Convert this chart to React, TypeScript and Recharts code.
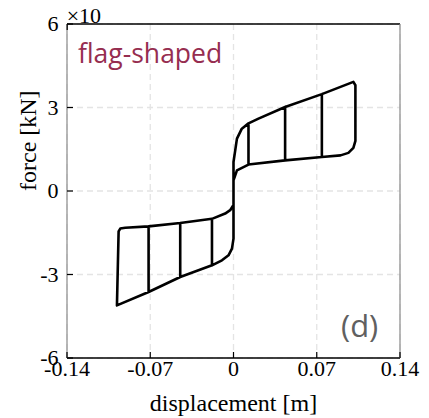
import { LineChart, Line, XAxis, YAxis, CartesianGrid } from 'recharts';

// displacement [m] / force [kN x10]
const xTicks = [-0.14, -0.07, 0, 0.07, 0.14];
const yTicks = [-6, -3, 0, 3, 6];

// positive flag: loading (upper) and unloading (lower) branches
const posLoadX = [0, 0, 0.0029, 0.007, 0.0126, 0.021, 0.0434, 0.0743, 0.1008];
const posLoadF = [0.2, 1.04, 1.88, 2.24, 2.43, 2.6, 3.02, 3.48, 3.92];
const posUnloadX = [0.1008, 0.1025, 0.1025, 0.1008, 0.0966, 0.09, 0.0743, 0.0434, 0.0126, 0.0029, 0, 0];
const posUnloadF = [3.92, 3.8, 1.8, 1.55, 1.37, 1.28, 1.22, 1.1, 0.95, 0.74, 0.38, 0];

// negative flag
const negLoadX = [0, 0, -0.0013, -0.0042, -0.0097, -0.0181, -0.0448, -0.0714, -0.098];
const negLoadF = [0, -1.71, -2.07, -2.31, -2.49, -2.67, -3.09, -3.63, -4.11];
const negUnloadX = [-0.098, -0.0966, -0.0952, -0.091, -0.0714, -0.0448, -0.0181, -0.007, -0.0028, 0, 0];
const negUnloadF = [-4.11, -1.45, -1.35, -1.32, -1.27, -1.15, -1.0, -0.81, -0.69, -0.5, 0];

// cycle amplitudes
const posAmp = [0.0126, 0.0434, 0.0743, 0.1008];
const negAmp = [-0.0181, -0.0448, -0.0714, -0.098];

const path: { x: number; f: number }[] = [{ x: 0, f: 0 }];
const push = (xs: number[], fs: number[], from: number, to: number) => {
  for (let k = from; k <= to; k++) path.push({ x: xs[k], f: fs[k] });
};
posAmp.forEach((a, i) => {
  const b = negAmp[i];
  push(posLoadX, posLoadF, 0, posLoadX.indexOf(a));
  push(posUnloadX, posUnloadF, posUnloadX.indexOf(a), posUnloadX.length - 1);
  push(negLoadX, negLoadF, 0, negLoadX.indexOf(b));
  push(negUnloadX, negUnloadF, negUnloadX.indexOf(b), negUnloadX.length - 1);
});

const serif = '"Liberation Serif", "Times New Roman", serif';

const BottomTick = ({ x, y, payload }: any) => (
  <g>
    <line x1={x} x2={x} y1={y} y2={y - 6} stroke="#000" strokeWidth={1.2} />
    <text x={x} y={y + 17.5} textAnchor="middle" fontFamily={serif} fontSize={22} fill="#000">
      {String(payload.value)}
    </text>
  </g>
);
const LeftTick = ({ x, y, payload }: any) => (
  <g>
    <line x1={x} x2={x + 6} y1={y} y2={y} stroke="#000" strokeWidth={1.2} />
    <text x={x - 8.5} y={y + 7} textAnchor="end" fontFamily={serif} fontSize={22} fill="#000">
      {String(payload.value)}
    </text>
  </g>
);
const TopTick = ({ x, y }: any) => <line x1={x} x2={x} y1={y} y2={y + 6} stroke="#000" strokeWidth={1.2} />;
const RightTick = ({ x, y }: any) => <line x1={x} x2={x - 6} y1={y} y2={y} stroke="#000" strokeWidth={1.2} />;

export default function App() {
  return (
    <div style={{ position: 'absolute', left: 0, top: 0, width: 429, height: 418, background: '#fff' }}>
      <LineChart width={429} height={418} data={path} margin={{ top: 23, right: 28, left: 0, bottom: 0 }}>
        <CartesianGrid strokeDasharray="6 4" stroke="#e4e4e4" strokeWidth={1.3} />
        <XAxis
          dataKey="x"
          type="number"
          domain={[-0.14, 0.14]}
          ticks={xTicks}
          height={60}
          tickSize={0}
          tickMargin={0}
          tickLine={false}
          axisLine={{ stroke: '#000', strokeWidth: 1.3 }}
          tick={BottomTick}
          label={{ value: 'displacement [m]', position: 'insideBottom', offset: 7, fontFamily: serif, fontSize: 24, fill: '#000' }}
        />
        <XAxis
          xAxisId="top"
          orientation="top"
          type="number"
          domain={[-0.14, 0.14]}
          ticks={[-0.07, 0, 0.07]}
          height={1}
          tickSize={0}
          tickMargin={0}
          tickLine={false}
          axisLine={{ stroke: '#000', strokeWidth: 1.3 }}
          tick={TopTick}
        />
        <YAxis
          type="number"
          domain={[-6, 6]}
          ticks={yTicks}
          width={67}
          tickSize={0}
          tickMargin={0}
          tickLine={false}
          axisLine={{ stroke: '#8a8a8a', strokeWidth: 1.2 }}
          tick={LeftTick}
          label={{ value: 'force [kN]', angle: -90, position: 'insideLeft', offset: 27, fontFamily: serif, fontSize: 24, fill: '#000' }}
        />
        <YAxis
          yAxisId="right"
          orientation="right"
          type="number"
          domain={[-6, 6]}
          ticks={[-3, 0, 3]}
          width={1}
          tickSize={0}
          tickMargin={0}
          tickLine={false}
          axisLine={{ stroke: '#8a8a8a', strokeWidth: 1.2 }}
          tick={RightTick}
        />
        <Line
          type="linear"
          dataKey="f"
          stroke="#000"
          strokeWidth={2.6}
          strokeLinejoin="round"
          dot={false}
          isAnimationActive={false}
        />
      </LineChart>
      <svg width={429} height={418} style={{ position: 'absolute', left: 0, top: 0, pointerEvents: 'none' }}>
        <text x={66.7} y={23} fontFamily={serif} fontSize={22} fill="#000">×10</text>
        <text x={78} y={63} fontFamily='"Open Sans", "Noto Sans", sans-serif' fontSize={26.5} fill="#962d50">flag-shaped</text>
        <text x={341} y={337} fontFamily='"Open Sans", "Noto Sans", sans-serif' fontSize={31} fill="#606060">(d)</text>
      </svg>
    </div>
  );
}
